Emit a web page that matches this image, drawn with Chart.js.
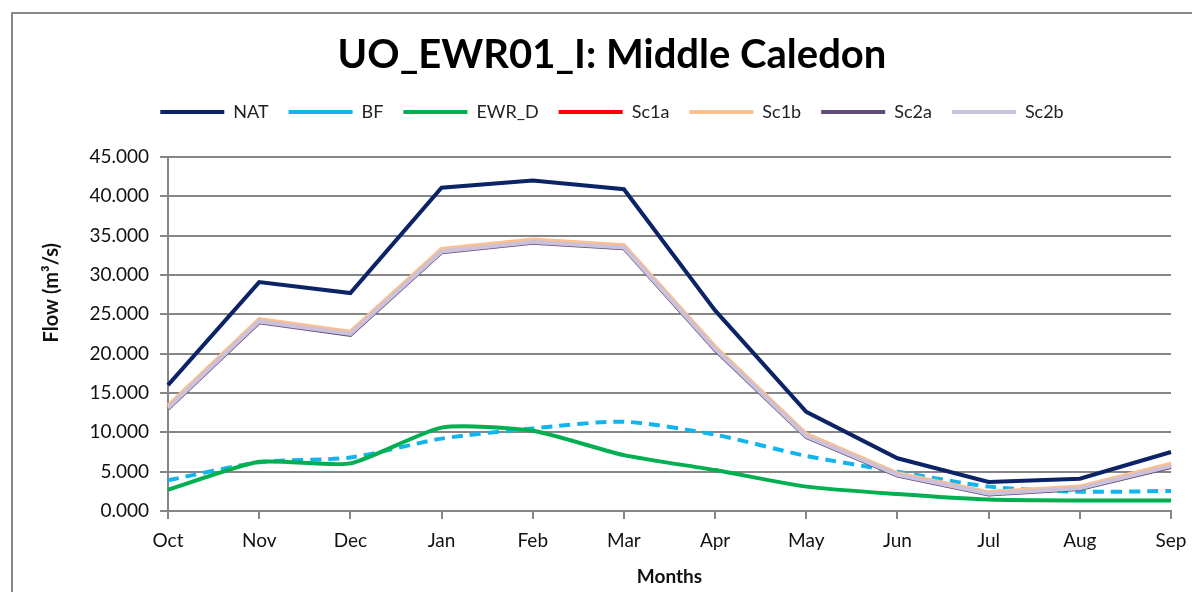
<!DOCTYPE html>
<html>
<head>
<meta charset="utf-8">
<script src="https://cdn.jsdelivr.net/npm/chart.js@4"></script>
<style>
  html, body { margin: 0; padding: 0; background: #fff; overflow: hidden; }
  #frame { position: absolute; left: 11px; top: 12px; width: 1240px; height: 620px;
           border-left: 2px solid #888; border-top: 2px solid #888; }
  #wrap { position: absolute; left: 1px; top: 0px; width: 1196px; height: 600px; }
</style>
</head>
<body>
<div id="frame"><div id="wrap"><canvas id="chart"></canvas></div></div>
<script>
// --- data ---
const months = ['Oct', 'Nov', 'Dec', 'Jan', 'Feb', 'Mar', 'Apr', 'May', 'Jun', 'Jul', 'Aug', 'Sep'];
const natFlow  = [16.0, 29.1, 27.7, 41.1, 42.0, 40.9, 25.5, 12.6, 6.7, 3.7, 4.1, 7.5];
const bfFlow   = [3.9, 6.2, 6.8, 9.2, 10.5, 11.35, 9.7, 7.0, 5.0, 3.1, 2.45, 2.55];
const ewrFlow  = [2.7, 6.25, 6.05, 10.6, 10.2, 7.1, 5.2, 3.1, 2.15, 1.45, 1.33, 1.33];
const sc1aFlow = [13.3, 24.3, 22.7, 33.2, 34.4, 33.7, 20.8, 9.7, 4.7, 2.3, 3.0, 5.9];
const sc1bFlow = [13.4, 24.4, 22.8, 33.3, 34.5, 33.8, 20.9, 9.8, 4.8, 2.4, 3.1, 6.0];
const sc2aFlow = [13.0, 24.0, 22.4, 32.9, 34.1, 33.4, 20.5, 9.4, 4.5, 2.1, 2.8, 5.6];
const sc2bFlow = [13.1, 24.1, 22.5, 33.0, 34.2, 33.5, 20.6, 9.5, 4.6, 2.2, 2.9, 5.7];
const yTicks = [0, 5, 10, 15, 20, 25, 30, 35, 40, 45];

const FONT = 'Lato, "Open Sans", sans-serif';
const GREY = '#868686';

function serie(label, data, color, extra) {
  return Object.assign({
    label: label, data: data, borderColor: color, backgroundColor: color,
    borderWidth: 4, pointRadius: 0, tension: 0, fill: false
  }, extra || {});
}

// later datasets must be painted on top (like Excel), so order runs backwards
const datasets = [
  serie('NAT', natFlow, '#0c2466', { order: 7 }),
  serie('BF', bfFlow, '#12b4ee', { order: 6, borderDash: [11, 7], tension: 0.25 }),
  serie('EWR_D', ewrFlow, '#00b050', { order: 5, tension: 0.2 }),
  serie('Sc1a', sc1aFlow, '#ff0000', { order: 4 }),
  serie('Sc1b', sc1bFlow, '#fac090', { order: 3 }),
  serie('Sc2a', sc2aFlow, '#604a7b', { order: 2 }),
  serie('Sc2b', sc2bFlow, '#ccc1da', { order: 1 })
];

// extra room between legend and plot
const legendGap = {
  id: 'legendGap',
  beforeInit(chart) {
    const fitOrig = chart.legend.fit;
    chart.legend.fit = function () {
      fitOrig.bind(chart.legend)();
      this.height += 26;
    };
  }
};

new Chart(document.getElementById('chart'), {
  type: 'line',
  data: { labels: months, datasets: datasets },
  plugins: [legendGap],
  options: {
    responsive: true,
    maintainAspectRatio: false,
    animation: false,
    layout: { padding: 0 },
    plugins: {
      tooltip: { enabled: false },
      title: {
        display: true,
        text: 'UO_EWR01_I: Middle Caledon',
        color: '#000',
        font: { family: FONT, size: 40, weight: 'bold' },
        padding: { top: 17, bottom: 4 }
      },
      legend: {
        labels: {
          usePointStyle: true,
          pointStyle: 'line',
          pointStyleWidth: 64,
          color: '#222',
          font: { family: FONT, size: 18 },
          padding: 20,
          sort: (a, b) => a.datasetIndex - b.datasetIndex
        }
      }
    },
    scales: {
      x: {
        offset: false,
        grid: { color: 'transparent', tickColor: GREY, tickLength: 8, lineWidth: 2 },
        border: { display: true, color: GREY, width: 2 },
        ticks: { color: '#111', font: { family: FONT, size: 19 }, padding: 10, maxRotation: 0 },
        title: { display: true, text: 'Months', color: '#111',
                 font: { family: FONT, size: 19, weight: 'bold' }, padding: { top: 0, bottom: 26 } },
        afterFit(scale) { scale.height = 103; }
      },
      y: {
        min: 0,
        max: 45,
        afterBuildTicks(scale) { scale.ticks = yTicks.map(v => ({ value: v })); },
        grid: { color: GREY, tickColor: GREY, tickLength: 8, lineWidth: 2 },
        border: { display: true, color: GREY, width: 2 },
        ticks: {
          color: '#111', font: { family: FONT, size: 19 }, padding: 11,
          callback: (v) => v.toFixed(3)
        },
        title: { display: true, text: '\u00a0'.repeat(17) + 'Flow (m\u00b3/s)', color: '#111',
                 font: { family: FONT, size: 20, weight: 'bold' }, padding: { top: 26, bottom: 0 } },
        afterFit(scale) { scale.width = 154; }
      },
      // empty right-hand axis, only keeps a margin right of the plot
      yPad: {
        position: 'right',
        min: 0,
        max: 45,
        grid: { display: false },
        border: { display: false },
        ticks: { display: false },
        afterFit(scale) { scale.width = 39; }
      }
    }
  }
});
</script>
</body>
</html>
